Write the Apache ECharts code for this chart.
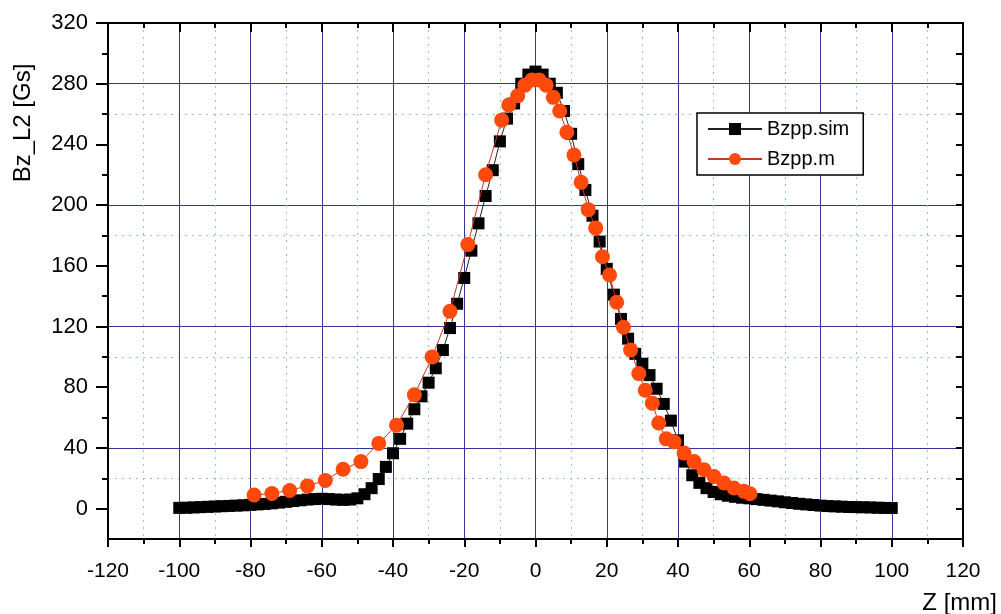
<!DOCTYPE html>
<html>
<head>
<meta charset="utf-8">
<script src="https://cdn.jsdelivr.net/npm/echarts@6/dist/echarts.min.js"></script>
<style>
  html, body { margin: 0; padding: 0; background: #fff; }
  #chart { width: 1001px; height: 614px; }
</style>
</head>
<body>
<div id="chart"></div>
<script>
// simulated field (black squares)
const simZ = [-100, -98, -96, -94, -92, -90, -88, -86, -84, -82, -80, -78, -76, -74, -72, -70, -68, -66, -64, -62,
  -60, -58, -56, -54, -52, -50, -48, -46, -44, -42, -40, -38, -36, -34, -32, -30, -28, -26, -24, -22,
  -20, -18, -16, -14, -12, -10, -8, -6, -4, -2, 0, 2, 4, 6, 8, 10, 12, 14, 16, 18,
  20, 22, 24, 26, 28, 30, 32, 34, 36, 38, 40, 42, 44, 46, 48, 50, 52, 54, 56, 58,
  60, 62, 64, 66, 68, 70, 72, 74, 76, 78, 80, 82, 84, 86, 88, 90, 92, 94, 96, 98, 100];
const simB = [0.5, 0.6, 0.8, 1.0, 1.2, 1.4, 1.6, 1.8, 2.0, 2.2, 2.5, 2.8, 3.1, 3.5, 4.0, 4.5, 5.0, 5.5, 6.0, 6.3,
  6.5, 6.3, 6.0, 5.8, 6.0, 6.8, 9.5, 13.5, 19.5, 27.5, 36.5, 46, 56, 65.5, 74, 83, 92.5, 104.5, 119, 135,
  152, 170, 188, 206, 223, 242, 257, 267, 280, 286, 288, 286, 280, 274, 262, 247, 227, 210, 193, 176,
  158, 141, 125, 112, 102, 95.5, 88, 79, 69, 58, 45, 31, 22, 17, 13.5, 11, 9.5, 8.5, 7.8, 7.2,
  6.8, 6.3, 5.8, 5.3, 4.8, 4.2, 3.7, 3.2, 2.8, 2.4, 2.0, 1.7, 1.5, 1.3, 1.1, 1.0, 0.9, 0.8, 0.6, 0.5, 0.4];

// measured field (orange circles)
const measZ = [-79, -74, -69, -64, -59, -54, -49, -44, -39, -34, -29, -24, -19, -14, -9.5, -7.5, -5, -3, -1, 1,
  3, 5, 6.8, 8.8, 10.8, 12.8, 14.8, 16.9, 18.8, 20.8, 22.8, 24.7, 26.7, 29, 30.8, 32.8, 34.6, 36.7, 38.9, 41.7,
  44.5, 47.3, 50.1, 52.9, 55.7, 58.5, 60.2];
const measB = [9, 10, 12, 15, 18.5, 26, 31, 43, 55, 75, 100, 130, 174, 220, 256, 266, 272, 279, 282.5, 282.5,
  279, 271, 262, 248, 233, 215, 197, 185, 166, 154, 136, 119.5, 104.6, 89, 78, 69.5, 56.4, 46, 44, 36.6,
  31, 25.6, 21.2, 16.9, 13.6, 11.4, 9.8];

const yMajor = [0, 40, 80, 120, 160, 200, 240, 280, 320];
const yMinor = [20, 60, 100, 140, 180, 220, 260, 300];

const font = 'Liberation Sans, Arial, sans-serif';
const blue = '#34349c';
const green = '#8ccfa6';

const chart = echarts.init(document.getElementById('chart'));
chart.setOption({
  animation: false,
  backgroundColor: '#fff',
  grid: { left: 108, right: 38, top: 23, bottom: 75 },
  legend: {
    left: 697,
    top: 113,
    orient: 'vertical',
    backgroundColor: '#fff',
    borderColor: '#000',
    borderWidth: 1.5,
    borderRadius: 0,
    padding: [6, 14, 6, 10],
    itemWidth: 54,
    itemHeight: 15,
    itemGap: 10,
    textStyle: { fontFamily: font, fontSize: 20, color: '#000' },
    data: ['Bzpp.sim', 'Bzpp.m']
  },
  xAxis: [
    {
      type: 'value',
      min: -120, max: 120, interval: 20,
      axisLine: { onZero: false, lineStyle: { color: '#000', width: 2 } },
      axisTick: { length: 8, lineStyle: { color: '#000', width: 2 } },
      minorTick: { show: true, splitNumber: 2, length: 5, lineStyle: { color: '#000', width: 2 } },
      axisLabel: { fontFamily: font, fontSize: 21, color: '#000', margin: 22 },
      splitLine: { show: true, lineStyle: { color: blue, width: 1 } },
      minorSplitLine: { show: true, lineStyle: { color: green, width: 1, type: [2, 5] } }
    },
    {
      type: 'value', position: 'top',
      min: -120, max: 120, interval: 20,
      axisLine: { onZero: false, lineStyle: { color: '#000', width: 2 } },
      axisTick: { inside: true, length: 9, lineStyle: { color: '#000', width: 2 } },
      minorTick: { show: true, splitNumber: 2, length: 5, lineStyle: { color: '#000', width: 2 } },
      axisLabel: { show: false },
      splitLine: { show: false }
    }
  ],
  yAxis: [
    {
      type: 'value',
      min: -20, max: 320, interval: 20,
      axisLine: { show: true, onZero: false, lineStyle: { color: '#000', width: 2 } },
      axisTick: { customValues: yMajor, length: 12, lineStyle: { color: '#000', width: 2 } },
      axisLabel: { customValues: yMajor, fontFamily: font, fontSize: 22, color: '#000', margin: 20 },
      splitLine: { show: true, lineStyle: { color: ['rgba(0,0,0,0)', blue], width: 1 } }
    },
    {
      type: 'value', position: 'left',
      min: -20, max: 320, interval: 20,
      axisLine: { show: false, onZero: false },
      axisTick: { customValues: yMinor, length: 6, lineStyle: { color: '#000', width: 2 } },
      axisLabel: { show: false },
      splitLine: { show: true, lineStyle: { color: [green, 'rgba(0,0,0,0)'], width: 1, type: [2, 5] } }
    },
    {
      type: 'value', position: 'right',
      min: -20, max: 320, interval: 20,
      axisLine: { show: true, onZero: false, lineStyle: { color: '#000', width: 2 } },
      axisTick: { inside: true, length: 7, lineStyle: { color: '#000', width: 2 } },
      axisLabel: { show: false },
      splitLine: { show: false }
    }
  ],
  graphic: [
    {
      type: 'text',
      x: 23, y: 123,
      rotation: Math.PI / 2,
      style: {
        text: 'Bz_L2 [Gs]',
        font: '24px ' + font,
        fill: '#000',
        align: 'center',
        verticalAlign: 'middle'
      }
    },
    {
      type: 'text',
      x: 997, y: 603,
      style: {
        text: 'Z [mm]',
        font: '24px ' + font,
        fill: '#000',
        align: 'right',
        verticalAlign: 'middle'
      }
    }
  ],
  series: [
    {
      name: 'Bzpp.sim',
      type: 'line',
      xAxisIndex: 0, yAxisIndex: 0,
      data: simZ.map((z, i) => [z, simB[i]]),
      symbol: 'rect',
      symbolSize: 12,
      itemStyle: { color: '#000' },
      lineStyle: { color: '#222', width: 1 },
      z: 3
    },
    {
      name: 'Bzpp.m',
      type: 'line',
      xAxisIndex: 0, yAxisIndex: 0,
      data: measZ.map((z, i) => [z, measB[i]]),
      symbol: 'circle',
      symbolSize: 15,
      itemStyle: { color: '#ff4a0c' },
      lineStyle: { color: '#c8362a', width: 1 },
      z: 4
    }
  ]
});
</script>
</body>
</html>
